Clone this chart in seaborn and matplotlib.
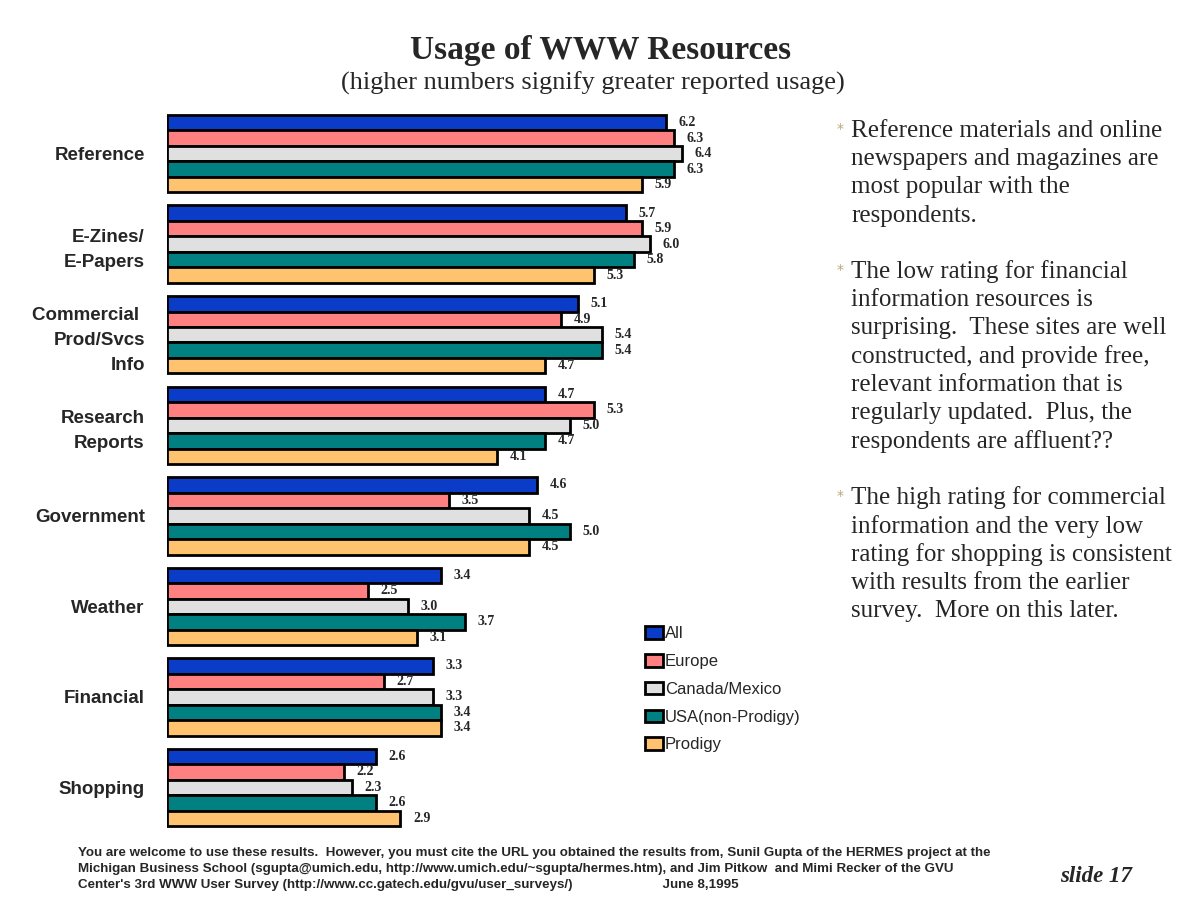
import matplotlib
matplotlib.use("Agg")
import matplotlib.pyplot as plt
import seaborn as sns
import pandas as pd
import numpy as np

categories = ["Reference", "E-Zines/\nE-Papers", "Commercial \nProd/Svcs\nInfo",
              "Research\nReports", "Government", "Weather", "Financial", "Shopping"]
series = ["All", "Europe", "Canada/Mexico", "USA(non-Prodigy)", "Prodigy"]
all_vals = [6.2, 5.7, 5.1, 4.7, 4.6, 3.4, 3.3, 2.6]
europe_vals = [6.3, 5.9, 4.9, 5.3, 3.5, 2.5, 2.7, 2.2]
canada_vals = [6.4, 6.0, 5.4, 5.0, 4.5, 3.0, 3.3, 2.3]
usa_vals = [6.3, 5.8, 5.4, 4.7, 5.0, 3.7, 3.4, 2.6]
prodigy_vals = [5.9, 5.3, 4.7, 4.1, 4.5, 3.1, 3.4, 2.9]
colors = ["#0B3CC8", "#FF8080", "#E0E0E0", "#008080", "#FFC26E"]

rows = []
for s, vals in zip(series, [all_vals, europe_vals, canada_vals, usa_vals, prodigy_vals]):
    for c, v in zip(categories, vals):
        rows.append({"Category": c, "Series": s, "Value": v})
df = pd.DataFrame(rows)

sns.set_theme(style="white")
plt.rcParams["font.family"] = ["Liberation Sans", "DejaVu Sans"]

fig = plt.figure(figsize=(12, 9.08), dpi=100)
W, H = 1200, 908
ax = fig.add_axes([167 / W, 1 - 830 / H, (700 - 167) / W, (830 - 112) / H])

sns.barplot(data=df, y="Category", x="Value", hue="Series", order=categories,
            hue_order=series, palette=colors, orient="h", width=0.855,
            edgecolor="black", linewidth=2, saturation=1, ax=ax, legend=True)

ax.set_xlim(0, 533 / 80.5)
ax.set_ylim(7.47, -0.46)
ax.set_xlabel("")
ax.set_ylabel("")
ax.set_xticks([])
for sp in ax.spines.values():
    sp.set_visible(False)
ax.tick_params(axis="y", length=0, pad=16)
for lab in ax.get_yticklabels():
    lab.set_fontweight("bold")
    lab.set_fontsize(13.5)
    lab.set_linespacing(1.6)
    lab.set_ha("right")

for cont in ax.containers:
    ax.bar_label(cont, labels=[f"{v:.1f}" for v in cont.datavalues], padding=9,
                 fontsize=10, fontweight="bold", family="Liberation Serif")

leg = ax.legend(loc="upper left", bbox_to_anchor=((645 - 167) / 533, 1 - (626 - 112) / 718),
                frameon=False, fontsize=12, handlelength=1.1, handleheight=0.8,
                handletextpad=0.1, labelspacing=0.76, borderaxespad=0, borderpad=0)
for h in leg.legend_handles:
    h.set_linewidth(2)
    h.set_edgecolor("black")

fig.text(601 / W, 1 - 51 / H, "Usage of WWW Resources", ha="center", va="center",
         fontsize=24, fontweight="bold", family="Liberation Serif")
fig.text(593 / W, 1 - 83 / H, "(higher numbers signify greater reported usage)",
         ha="center", va="center", fontsize=19, family="Liberation Serif")

paras = [
    (131, ["Reference materials and online", "newspapers and magazines are",
           "most popular with the", "respondents."]),
    (272, ["The low rating for financial", "information resources is",
           "surprising.  These sites are well", "constructed, and provide free,",
           "relevant information that is", "regularly updated.  Plus, the",
           "respondents are affluent??"]),
    (498, ["The high rating for commercial", "information and the very low",
           "rating for shopping is consistent", "with results from the earlier",
           "survey.  More on this later."]),
]
for y0, lines in paras:
    fig.text(840 / W, 1 - (y0 - 2) / H, "*", ha="center", va="center",
             fontsize=10, color="#B8A878", family="DejaVu Sans")
    for i, ln in enumerate(lines):
        fig.text(851 / W, 1 - (y0 + 28.2 * i) / H, ln, ha="left", va="center",
                 fontsize=18, family="Liberation Serif")

footer = ["You are welcome to use these results.  However, you must cite the URL you obtained the results from, Sunil Gupta of the HERMES project at the",
          "Michigan Business School (sgupta@umich.edu, http://www.umich.edu/~sgupta/hermes.htm), and Jim Pitkow  and Mimi Recker of the GVU",
          "Center's 3rd WWW User Survey (http://www.cc.gatech.edu/gvu/user_surveys/)                        June 8,1995"]
for i, ln in enumerate(footer):
    fig.text(78 / W, 1 - (853 + 16 * i) / H, ln, ha="left", va="center",
             fontsize=9.6, fontweight="bold", family="Liberation Sans")

fig.text(1132 / W, 1 - 877 / H, "slide 17", ha="right", va="center", fontsize=16.5,
         fontweight="bold", fontstyle="italic", family="Liberation Serif")

fig.savefig("out.png", dpi=100, facecolor="white")
